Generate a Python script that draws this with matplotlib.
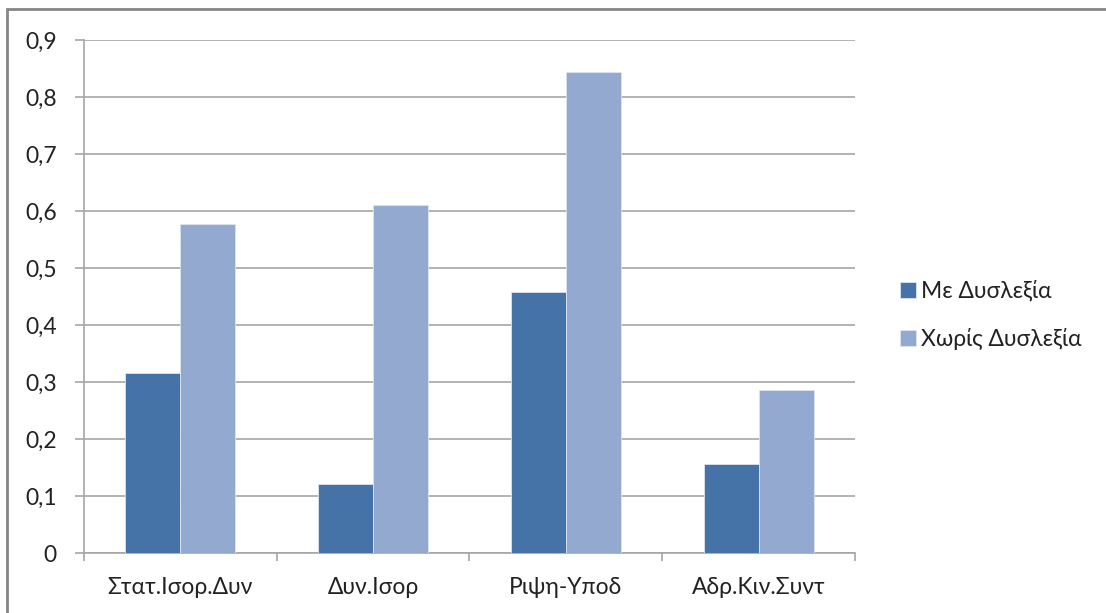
import matplotlib
matplotlib.use("Agg")
import matplotlib.pyplot as plt
from matplotlib.patches import Rectangle
import numpy as np

categories = ["Στατ.Ισορ.Δυν", "Δυν.Ισορ", "Ριψη-Υποδ", "Αδρ.Κιν.Συντ"]
with_dyslexia = [0.315, 0.121, 0.458, 0.156]
without_dyslexia = [0.578, 0.610, 0.844, 0.286]
series_names = ["Με Δυσλεξία", "Χωρίς Δυσλεξία"]
y_ticks = [0, 0.1, 0.2, 0.3, 0.4, 0.5, 0.6, 0.7, 0.8, 0.9]

dark = "#4572A7"
light = "#94A9D0"
grid_c = "#A6A6A6"
text_c = "#222222"
fs = 16.5

plt.rcParams["font.family"] = ["Lato", "DejaVu Sans"]

fig = plt.figure(figsize=(11.06, 6.13), dpi=100)
ax = fig.add_axes([84 / 1106, 1 - 553 / 613, (855 - 84) / 1106, (553 - 40) / 613])

x = np.arange(len(categories))
w = 1 / 3.5
ax.bar(x - w / 2, with_dyslexia, width=w, color=dark, edgecolor="#DDE4EE",
       linewidth=0.6, label=series_names[0], zorder=3)
ax.bar(x + w / 2, without_dyslexia, width=w, color=light, edgecolor="#DDE4EE",
       linewidth=0.6, label=series_names[1], zorder=3)

ax.set_xlim(-0.5, len(categories) - 0.5)
ax.set_ylim(0, 0.9)
ax.set_yticks(y_ticks)
ax.set_yticklabels([f"{v:g}".replace(".", ",") for v in y_ticks], fontsize=fs, color=text_c)
ax.yaxis.grid(True, color=grid_c, linewidth=1.2, zorder=0)
ax.set_axisbelow(True)

# category labels centred, tick marks at category boundaries
ax.set_xticks(x)
ax.set_xticklabels(categories, fontsize=fs, color=text_c)
ax.tick_params(axis="x", length=0, pad=17)
ax.set_xticks(np.arange(-0.5, len(categories)), minor=True)
ax.tick_params(axis="x", which="minor", length=6, color=grid_c, width=1.2, direction="out")
ax.tick_params(axis="y", length=6.5, color=grid_c, width=1.2, pad=13)

for s in ["top", "right"]:
    ax.spines[s].set_visible(False)
for s in ["left", "bottom"]:
    ax.spines[s].set_color(grid_c)
    ax.spines[s].set_linewidth(1.2)

fig.legend(loc="center left", bbox_to_anchor=(879 / 1106, 1 - 315 / 613),
           frameon=False, fontsize=fs, handlelength=0.7, handleheight=0.7,
           handletextpad=0.25, labelspacing=1.15, labelcolor=text_c)

# outer chart border
fig.patches.append(Rectangle((7 / 1106, -0.1), 1.2, 1 - 9 / 613 + 0.1,
                             transform=fig.transFigure, fill=False,
                             edgecolor="#868686", linewidth=2))

fig.savefig("out.png", dpi=100)
